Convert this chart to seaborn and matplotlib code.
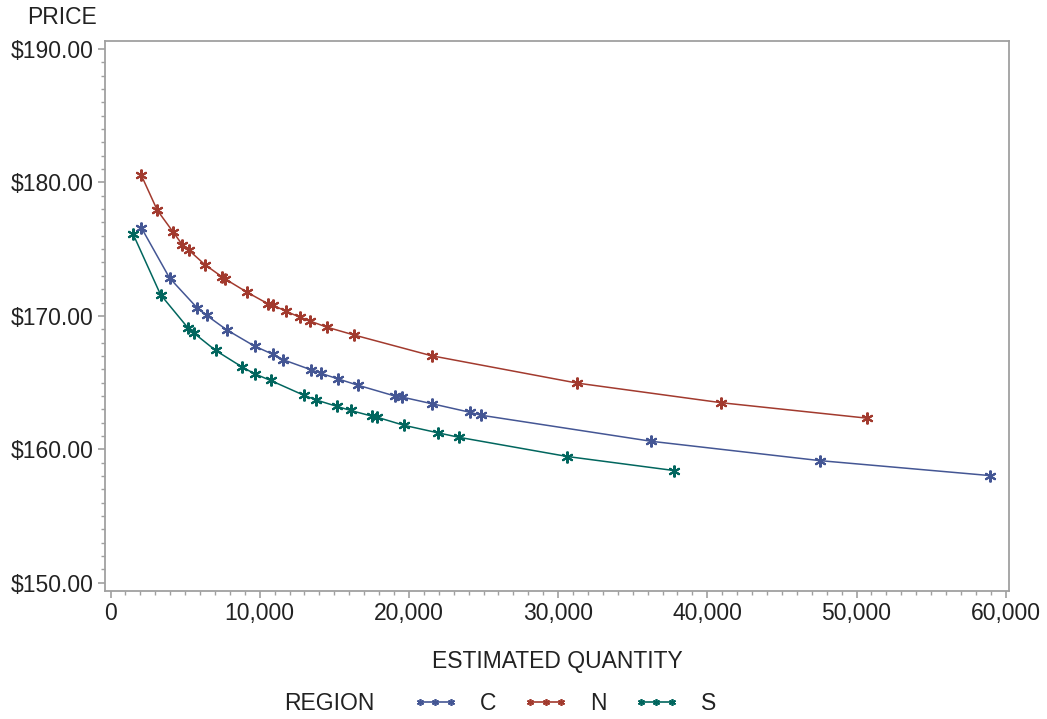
import matplotlib
matplotlib.use("Agg")
import matplotlib.pyplot as plt
import seaborn as sns
import pandas as pd
from matplotlib.lines import Line2D
from matplotlib.ticker import MultipleLocator, FuncFormatter

# values
qty_c = [2058, 3955, 5812, 6436, 7776, 9653, 10860, 11577, 13407, 14078,
         15265, 16559, 19039, 19555, 21566, 24066, 24804, 36247, 47550, 58946]
price_c = [176.62, 172.84, 170.59, 170.04, 168.96, 167.73, 167.13, 166.71, 165.97, 165.70,
           165.27, 164.81, 164.00, 163.91, 163.41, 162.78, 162.56, 160.60, 159.15, 158.03]

qty_n = [2058, 3131, 4203, 4807, 5249, 6322, 7488, 7642, 9164, 10525,
         10860, 11765, 12670, 13374, 14480, 16310, 21519, 31286, 40940, 50728]
price_n = [180.55, 177.92, 176.27, 175.34, 174.92, 173.84, 172.91, 172.79, 171.76, 170.92,
           170.81, 170.34, 169.91, 169.61, 169.16, 168.57, 167.01, 164.96, 163.49, 162.33]

qty_s = [1495, 3352, 5182, 5584, 7039, 8829, 9653, 10726, 12958, 13743,
         15198, 16089, 17544, 17879, 19662, 21968, 23349, 30615, 37762]
price_s = [176.17, 171.59, 169.11, 168.71, 167.41, 166.16, 165.66, 165.16, 164.05, 163.71,
           163.21, 162.91, 162.48, 162.40, 161.80, 161.23, 160.90, 159.46, 158.41]

regions = ["C", "N", "S"]
colors = {"C": "#445694", "N": "#A23A2E", "S": "#01665E"}

df = pd.concat([
    pd.DataFrame({"qty": qty_c, "price": price_c, "REGION": "C"}),
    pd.DataFrame({"qty": qty_n, "price": price_n, "REGION": "N"}),
    pd.DataFrame({"qty": qty_s, "price": price_s, "REGION": "S"}),
])

sns.set_style("ticks")
plt.rcParams["font.family"] = ["Liberation Sans", "DejaVu Sans"]
text_color = "#222222"

fig = plt.figure(figsize=(10.47, 7.19), dpi=100)
ax = fig.add_axes([0.1003, 0.178, 0.8634, 0.7654])

asterisk = (6, 2, 0)
sns.lineplot(data=df, x="qty", y="price", hue="REGION", hue_order=regions,
             palette=colors, marker=asterisk, markersize=8.5,
             linewidth=1.1, estimator=None, sort=True, legend=False, ax=ax)
# seaborn paints marker edges white; give them the line colour
for ln in ax.lines:
    ln.set_markeredgecolor(ln.get_color())
    ln.set_markeredgewidth(1.5)

ax.set_xlim(-370, 60220)
ax.set_ylim(149.38, 190.62)
ax.xaxis.set_major_locator(MultipleLocator(10000))
ax.xaxis.set_minor_locator(MultipleLocator(1000))
ax.yaxis.set_major_locator(MultipleLocator(10))
ax.yaxis.set_minor_locator(MultipleLocator(1))
ax.xaxis.set_major_formatter(FuncFormatter(lambda v, p: f"{int(v):,}"))
ax.yaxis.set_major_formatter(FuncFormatter(lambda v, p: f"${v:.2f}"))

for s in ax.spines.values():
    s.set_color("#a0a0a0")
    s.set_linewidth(1.3)
ax.tick_params(which="major", length=5, width=1.2, color="#a0a0a0",
               labelsize=16.5, labelcolor=text_color, pad=3)
ax.tick_params(which="minor", length=3, width=1.0, color="#a0a0a0")

ax.set_xlabel("ESTIMATED QUANTITY", fontsize=16.5, color=text_color, labelpad=18)
ax.set_ylabel("")
fig.text(97 / 1047, 1 - 18 / 719, "PRICE", ha="right", va="center",
         fontsize=16.5, color=text_color)

# legend at the bottom
fig.text(329 / 1047, 1 - 704 / 719, "REGION", ha="center", va="center",
         fontsize=16.5, color=text_color)
handles = [Line2D([], [], color=colors[r], marker=asterisk, markersize=5,
                  markeredgewidth=1.2, linewidth=1.2) for r in regions]
fig.legend(handles, regions, loc="center left", bbox_to_anchor=(413 / 1047, 1 - 704 / 719),
           ncol=3, frameon=False, numpoints=3, handlelength=1.96, handletextpad=0.96,
           columnspacing=1.18, borderpad=0, borderaxespad=0,
           fontsize=16.5, labelcolor=text_color)

fig.savefig("out.png", dpi=100, facecolor="white")
